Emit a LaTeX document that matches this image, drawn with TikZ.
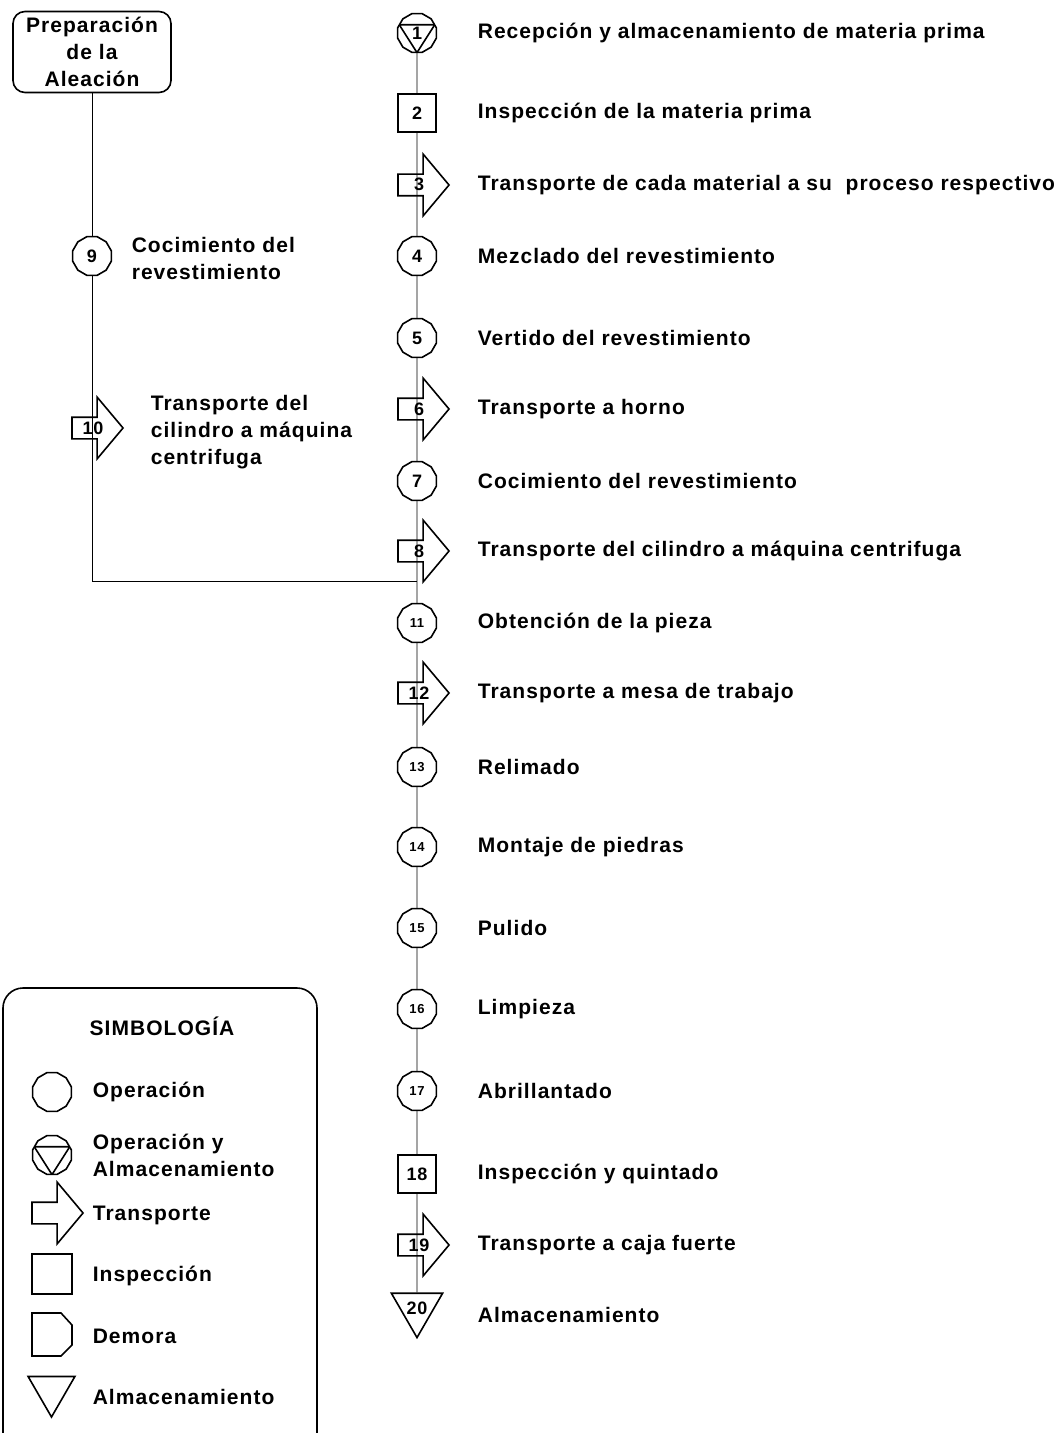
\documentclass[tikz,border=0pt]{standalone}
\usepackage{fontspec}
\setmainfont{Liberation Sans}[LetterSpace=5]
\usetikzlibrary{shapes.geometric,shapes.arrows,backgrounds}

\tikzset{
  oper/.style={draw,fill=white,regular polygon,regular polygon sides=12,minimum size=20pt,inner sep=0pt,font=\bfseries\fontsize{9}{9}\selectfont},
  opsmall/.style={oper,font=\bfseries\fontsize{6.5}{7}\selectfont},
  insp/.style={draw,fill=white,rectangle,minimum size=19pt,inner sep=0pt,font=\bfseries\fontsize{9}{9}\selectfont},
  transp/.style={draw,single arrow,single arrow tip angle=100,single arrow head extend=10pt,minimum height=25.5pt,minimum width=30pt,inner xsep=1pt,inner ysep=2pt,text height=6pt,text depth=0pt,font=\bfseries\fontsize{9}{9}\selectfont},
  almac/.style={draw,fill=white,regular polygon,regular polygon sides=3,shape border rotate=180,minimum size=27pt,inner sep=0pt,font=\bfseries\fontsize{9}{9}\selectfont},
  lbl/.style={anchor=west,inner sep=0pt,align=left,font=\bfseries\fontsize{10.5}{13.5}\selectfont},
  almtri/.style={path picture={\draw ([shift={(155:9.8pt)}]path picture bounding box.center) -- ([shift={(25:9.8pt)}]path picture bounding box.center) -- ([shift={(270:9.8pt)}]path picture bounding box.center) -- cycle;}},
}

\begin{document}
\begin{tikzpicture}[x=0.5pt,y=-0.5pt,line width=0.8pt]
  \useasboundingbox (0,0) rectangle (1060,1433);

  % columna izquierda
  \node[draw,fill=white,rounded corners=6pt,minimum width=79pt,minimum height=40.5pt,inner sep=0pt,align=center,font=\bfseries\fontsize{10.5}{13.5}\selectfont] (prep) at (92,52) {Preparación\\de la\\Aleación};
  \node[oper] (n9) at (92,256) {9};
  \node[lbl] (t9) at (131,258) {Cocimiento del\\revestimiento};
  \node[transp] (n10) at (93,428) {10};
  \node[lbl] (t10) at (150,432) {Transporte del\\cilindro a máquina\\centrifuga};
  \coordinate (corner) at (92,581);
  \coordinate (merge) at (417,581);

  % columna principal
  \node[oper,almtri] (n1) at (417,33) {1};
  \node[insp] (n2) at (417,113) {2};
  \node[insp] (n18) at (417,1174) {18};
  \foreach \n/\y in {4/256,5/338,7/481}
    \node[oper] (n\n) at (417,\y) {\n};
  \foreach \n/\y in {11/623,13/767,14/847,15/928,16/1009,17/1091}
    \node[opsmall] (n\n) at (417,\y) {\n};
  \foreach \n/\y in {3/185,6/409,8/551,12/693,19/1245}
    \node[transp] (n\n) at (419,\y) {\n};
  \node[almac] (n20) at (417,1308) {20};

  \foreach \n/\y/\t in {1/33/Recepción y almacenamiento de materia prima,
      2/113/Inspección de la materia prima,
      3/185/Transporte de cada material a su~ proceso respectivo,
      4/256/Mezclado del revestimiento,
      5/338/Vertido del revestimiento,
      6/409/Transporte a horno,
      7/481/Cocimiento del revestimiento,
      8/551/Transporte del cilindro a máquina centrifuga,
      11/623/Obtención de la pieza,
      12/693/Transporte a mesa de trabajo,
      13/767/Relimado,
      14/847/Montaje de piedras,
      15/928/Pulido,
      16/1009/Limpieza,
      17/1091/Abrillantado,
      18/1174/Inspección y quintado,
      19/1245/Transporte a caja fuerte,
      20/1315/Almacenamiento}
    \node[lbl] (t\n) at (477,\y) {\t};

  \begin{scope}[on background layer]
    \draw (prep) -- (corner) -- (merge);
    \draw (n1) -- (n20);
  \end{scope}

  % simbologia
  \draw[rounded corners=10pt] (3,988) rectangle (317,1460);
  \node[font=\bfseries\fontsize{10.5}{12}\selectfont,inner sep=0pt] (titulo) at (162,1026) {SIMBOLOGÍA};
  \node[oper] (s-op) at (52,1092) {};
  \node[oper,almtri] (s-opal) at (52,1155) {};
  \node[transp] (s-tr) at (53,1213) {};
  \node[insp,minimum size=20pt] (s-in) at (52,1274) {};
  \draw (32,1313) -- (61,1313) -- (72,1325) -- (72,1345) -- (61,1356) -- (32,1356) -- cycle;
  \node[almac] (s-al) at (51.5,1390) {};
  \node[lbl] (s-t1) at (92,1092) {Operación};
  \node[lbl] (s-t2) at (92,1155) {Operación y\\Almacenamiento};
  \node[lbl] (s-t3) at (92,1215) {Transporte};
  \node[lbl] (s-t4) at (92,1276) {Inspección};
  \node[lbl] (s-t5) at (92,1336) {Demora};
  \node[lbl] (s-t6) at (92,1397) {Almacenamiento};
\end{tikzpicture}
\end{document}
